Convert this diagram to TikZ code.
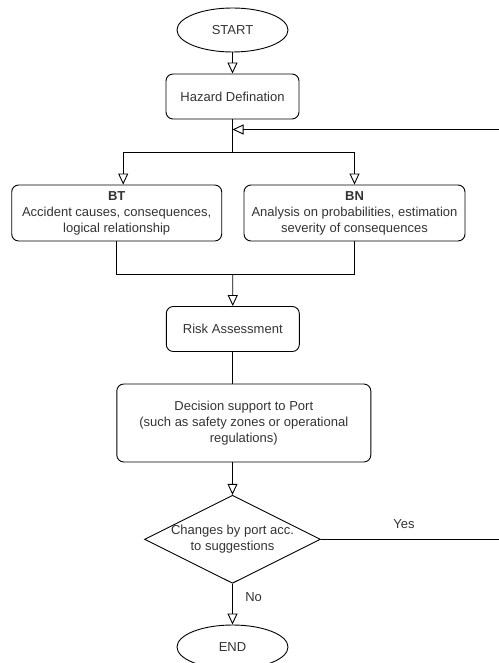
\documentclass[tikz,border=0pt]{standalone}
\usepackage{fontspec}
\setmainfont{Liberation Sans}
\usetikzlibrary{arrows.meta, shapes.geometric}
\definecolor{ink}{HTML}{333333}

\begin{document}
\begin{tikzpicture}[x = 1pt, y = -1pt, line width = 0.9pt,
        every node/.style = {text = ink, font = \fontsize{13}{16}\selectfont},
        box/.style = {draw, rounded corners = 7pt, align = center, inner sep = 0pt, minimum width = #1},
        terminal/.style = {draw, ellipse, minimum width = 111pt, minimum height = 44pt, inner sep = 0pt},
        flow/.style = {-{Triangle[open, length = 11pt, width = 10pt]}}]
        \useasboundingbox (0, 0) rectangle (498, 663);
        % nodes
        \draw (232.5, 30) node[terminal] (start) {START}
              (232.5, 96.5) node[box = 133pt, minimum height = 45pt] (hazard) {Hazard Defination}
              (116.7, 213) node[box = 210pt, minimum height = 56pt] (bt) {\textbf{BT}\\Accident causes, consequences,\\logical relationship}
              (354.5, 213) node[box = 221pt, minimum height = 56pt] (bn) {\textbf{BN}\\Analysis on probabilities, estimation\\severity of consequences}
              (232.8, 329) node[box = 133pt, minimum height = 45pt] (risk) {Risk Assessment}
              (243.8, 423) node[box = 254pt, minimum height = 78pt] (support) {Decision support to Port\\(such as safety zones or operational\\regulations)}
              (232.5, 539.3) node[draw, diamond, inner sep = 0pt, minimum width = 176pt, minimum height = 88pt] (changes)
                  {\makebox[0pt]{\begin{tabular}{@{}c@{}}Changes by port acc.\\to suggestions\end{tabular}}}
              (232.5, 647) node[terminal] (finish) {END};
        \coordinate (fork) at (232.5, 152);
        \coordinate (merge) at (232.7, 274);
        \coordinate (reentry) at (232.5, 129.5);
        \coordinate (corner) at (501, 539.3);
        % connectors
        \draw[flow] (start) -- (hazard);
        \draw (hazard) -- (fork);
        \draw[flow] (fork) -| ([xshift = 6.5pt]bt.north);
        \draw[flow] (fork) -| (bn.north);
        \draw (bt.south) |- (merge);
        \draw (bn.south) |- (merge);
        \draw[flow] (merge) -- (risk);
        \draw (risk.south) -- (risk.south |- support.north);
        \draw[flow] (support.south -| changes.north) -- (changes.north);
        \draw[flow] (changes.south) -- node[right, xshift = 9pt, yshift = 7pt] {No} (finish);
        \draw[flow] (changes.east) -- node[above, xshift = -7pt, yshift = 7pt] {Yes} (corner) |- (reentry);
    \end{tikzpicture}
\end{document}
